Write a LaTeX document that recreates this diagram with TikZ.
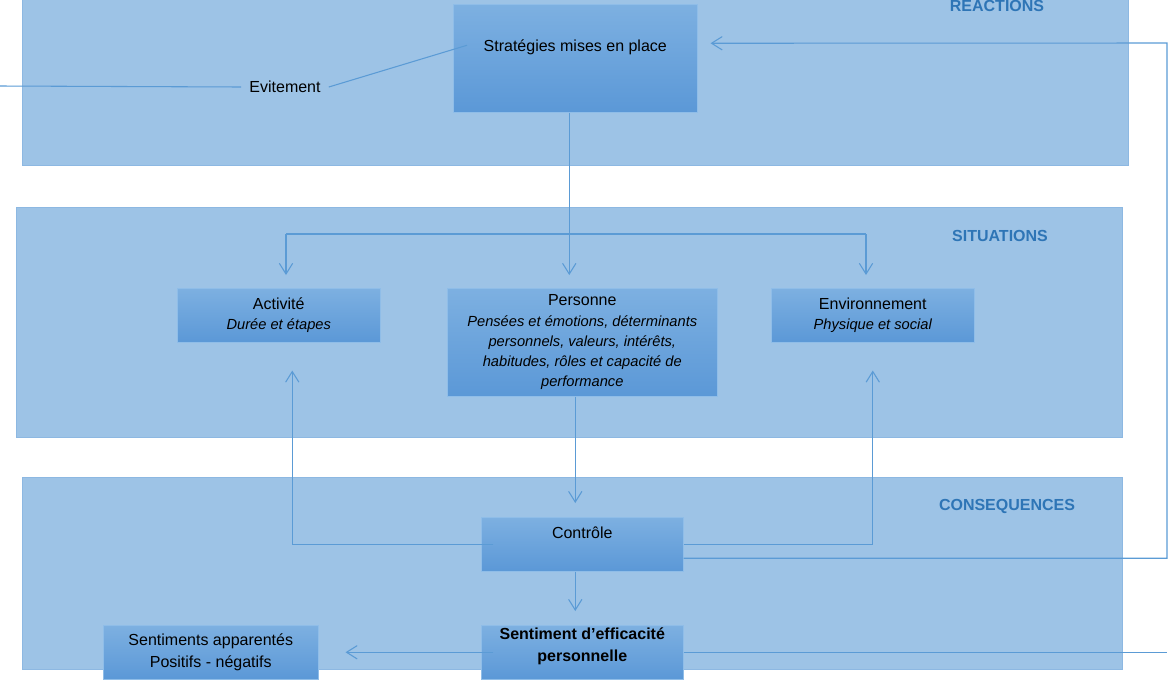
\documentclass[tikz,border=0pt]{standalone}
\usepackage{fontspec}
\setmainfont{Liberation Sans}
\usepackage{xcolor}
\usetikzlibrary{positioning,arrows.meta}

\definecolor{bandblue}{HTML}{9DC3E6}
\definecolor{bandedge}{HTML}{8DB8E2}
\definecolor{boxtop}{HTML}{7DB0E1}
\definecolor{boxbot}{HTML}{5B98D7}
\definecolor{boxedge}{HTML}{8FBDE8}
\definecolor{linkblue}{HTML}{5B9BD5}
\definecolor{titleblue}{HTML}{2E75B6}

\newcommand{\soustitre}{\fontsize{11}{15}\selectfont\itshape}

\tikzset{
    band/.style={draw=bandedge, fill=bandblue, anchor=north west, inner sep=0},
    box/.style={draw=boxedge, top color=boxtop, bottom color=boxbot, anchor=north west,
        inner sep=0, align=center, font=\fontsize{12}{14}\selectfont},
    txt/.style={align=center, inner sep=0, font=\fontsize{12}{14}\selectfont},
    title/.style={text=titleblue, font=\fontsize{12}{14}\selectfont\bfseries},
    link/.style={draw=linkblue, line width=0.8pt},
    arr/.style={link, -{Straight Barb[length=8pt,width=10pt]}},
}

\begin{document}
\begin{tikzpicture}[x=0.75pt, y=-0.75pt]
\useasboundingbox (0,0) rectangle (1169,679);

% bandes
\node [band, minimum width=829.5pt, minimum height=131.25pt] (reactions) at (22,-10) {};
\node [band, minimum width=829.5pt, minimum height=172.5pt] (situations) at (16,207) {};
\node [band, minimum width=825pt, minimum height=144pt] (consequences) at (22,477) {};
\node [title] (reactlbl) at (997,6) {REACTIONS};
\node [title] (situlbl) at (1000,236) {SITUATIONS};
\node [title] (conslbl) at (1007,506) {CONSEQUENCES};

% boites
\node [box, minimum width=183pt, minimum height=81pt] (strat) at (453,4) {};
\node [txt] (strattxt) at ([yshift=-32.25pt]strat.north) {Stratégies mises en place};
\node [box, minimum width=152.25pt, minimum height=40.5pt] (activite) at (177,288) {Activité\\[1.5pt]\soustitre Durée et étapes};
\node [box, minimum width=202.5pt, minimum height=81pt] (personne) at (447,288) {Personne\\[1.5pt]\soustitre Pensées et émotions, déterminants\\[1pt] \soustitre personnels, valeurs, intérêts,\\[1pt] \soustitre habitudes, rôles et capacité de\\[1pt] \soustitre performance};
\node [box, minimum width=152.25pt, minimum height=40.5pt] (environ) at (771,288) {Environnement\\[1.5pt]\soustitre Physique et social};
\node [box, minimum width=151.5pt, minimum height=40.5pt] (controle) at (481,517) {};
\node [txt] (controletxt) at ([yshift=-12pt]controle.north) {Contrôle};
\node [box, minimum width=151.5pt, minimum height=40.5pt] (sentiment) at (481,625) {};
\node [txt, font=\fontsize{12}{14}\selectfont\bfseries] (sentimenttxt) at ([yshift=-15.75pt]sentiment.north) {Sentiment d’efficacité\\[2.5pt] personnelle};
\node [box, minimum width=161.25pt, minimum height=40.5pt] (apparentes) at (103,625) {Sentiments apparentés\\[3pt] Positifs - négatifs};

\node [txt, inner sep=6pt] (evit) at (285,87) {Evitement};
\coordinate (bordG) at (0,86);
\coordinate (coinD) at (1167,43);
\coordinate (brL) at (286,234);
\coordinate (brR) at (866,234);

% liens
\draw [link] (bordG) -- (evit.west);
\draw [link] (evit.east) -- ([shift={(10.5pt,9.75pt)}]strat.west);
\draw [arr, shorten >=9.75pt] ([xshift=-4.5pt]strat.south) -- ([xshift=-4.5pt]strat.south |- personne.north);
\draw [link] (brL) -- (brR);
\draw [arr, shorten >=9.75pt] (brL) -- (brL |- activite.north);
\draw [arr, shorten >=9.75pt] (brR) -- (brR |- environ.north);
\draw [arr, shorten >=10.5pt] ([xshift=-5.25pt]personne.south) -- ([xshift=-5.25pt]controle.north);
\draw [arr, shorten >=21pt] ([xshift=9pt]controle.west) -| ([xshift=10.125pt]activite.south);
\draw [arr, shorten >=21pt] (controle.east) -| (environ.south);
\draw [arr, shorten >=9.75pt] ([yshift=-10.5pt]controle.east) -| (coinD) -- ([yshift=11.25pt]strat.east);
\draw [link] (sentiment.east) -- (sentiment.east -| coinD);
\draw [arr, shorten >=10.5pt] ([xshift=-5.25pt]controle.south) -- ([xshift=-5.25pt]sentiment.north);
\draw [arr, shorten >=20.25pt] ([xshift=9pt]sentiment.west) -- (apparentes.east);
\end{tikzpicture}
\end{document}
